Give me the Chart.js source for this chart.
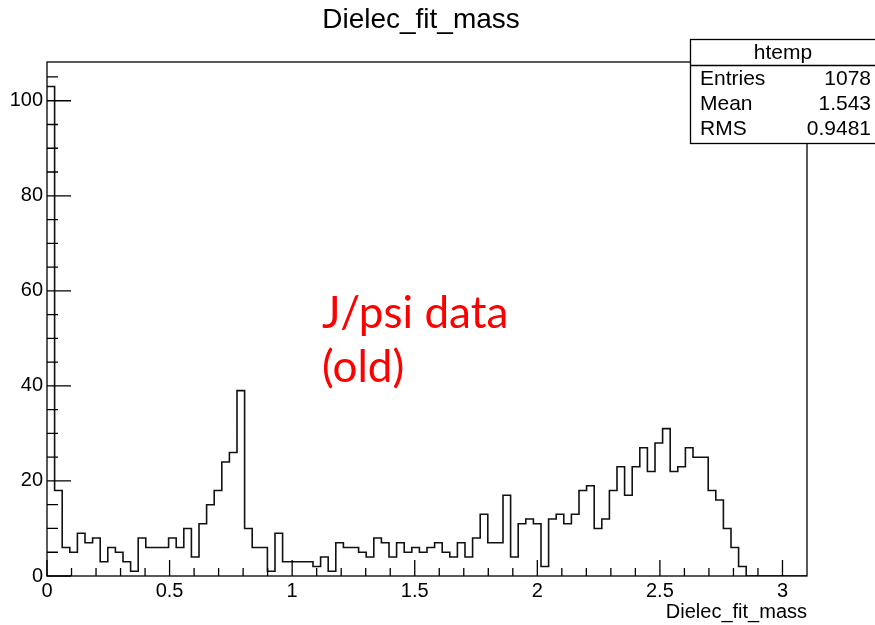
<!DOCTYPE html>
<html>
<head>
<meta charset="utf-8">
<title>Dielec_fit_mass</title>
<script src="https://cdn.jsdelivr.net/npm/chart.js@4.4.1/dist/chart.umd.min.js"></script>
<style>
  html, body { margin: 0; padding: 0; background: #fff; }
  #wrap { width: 875px; height: 625px; }
</style>
</head>
<body>
<div id="wrap"><canvas id="histChart" width="875" height="625"></canvas></div>
<script>
// htemp: 100 bins between binLow and binHigh
var binLow = 0;
var binHigh = 3.1;
var binCounts = [
  103, 18, 6, 5, 9, 7, 8, 3, 6, 5,
  3, 1, 8, 6, 6, 6, 8, 6, 10, 4,
  11, 15, 18, 24, 26, 39, 10, 6, 6, 1,
  9, 3, 3, 3, 3, 2, 4, 1, 7, 6,
  6, 5, 4, 8, 7, 4, 7, 5, 6, 5,
  6, 7, 5, 4, 7, 4, 8, 13, 7, 7,
  17, 4, 11, 12, 11, 2, 12, 13, 11, 13,
  18, 19, 10, 12, 18, 23, 17, 23, 27, 22,
  28, 31, 22, 23, 27, 25, 25, 18, 16, 10,
  6, 2, 0, 0, 0, 0, 0, 0, 0, 0
];
var yAxisMax = 108.15;   // ROOT: max bin * 1.05

var histTitle = 'Dielec_fit_mass';
var xAxisTitle = 'Dielec_fit_mass';

// stats box
var statsTitle = 'htemp';
var statLabels = ['Entries', 'Mean', 'RMS'];
var statValues = ['1078', '1.543', '0.9481'];

// red note pasted on the plot
var noteLines = ['J/psi data', '(old)'];

Chart.defaults.font.family = "'Liberation Sans', Arial, Helvetica, sans-serif";
Chart.defaults.color = '#000';

var binWidth = (binHigh - binLow) / binCounts.length;
var histPoints = binCounts.map(function(c, i) {
  return { x: binLow + i * binWidth, y: c };
});
histPoints.push({ x: binHigh, y: binCounts[binCounts.length - 1] });

function plainNumber(value) {
  return String(Number(value.toFixed(3)));
}

// ROOT style title, frame, inward ticks, stats box and note
var rootDecor = {
  id: 'rootDecor',
  afterDraw: function(chart) {
    var ctx = chart.ctx;
    var a = chart.chartArea;
    var xs = chart.scales.x, ys = chart.scales.y;
    ctx.save();

    ctx.fillStyle = '#000';
    ctx.font = "28px 'Liberation Sans', Arial, sans-serif";
    ctx.textAlign = 'center';
    ctx.textBaseline = 'middle';
    ctx.fillText(histTitle, 421, 20);

    ctx.strokeStyle = '#000';
    ctx.lineWidth = 1.3;
    ctx.strokeRect(a.left, a.top, a.right - a.left, a.bottom - a.top);

    ctx.beginPath();
    for (var v = 0; v <= 105; v += 5) {
      var py = ys.getPixelForValue(v);
      var len = (v % 20 === 0) ? 24 : 11;
      ctx.moveTo(a.left, py);
      ctx.lineTo(a.left + len, py);
    }
    for (var k = 0; k <= 30; k++) {
      var px = xs.getPixelForValue(k / 10);
      var len2 = (k % 5 === 0) ? 16 : 8;
      ctx.moveTo(px, a.bottom);
      ctx.lineTo(px, a.bottom - len2);
    }
    ctx.stroke();

    // stats box
    ctx.fillStyle = '#fff';
    ctx.fillRect(690.5, 39.5, 200, 104);
    ctx.strokeRect(690.5, 39.5, 200, 104);
    ctx.beginPath();
    ctx.moveTo(690.5, 65.5);
    ctx.lineTo(875, 65.5);
    ctx.stroke();
    ctx.fillStyle = '#000';
    ctx.font = "21px 'Liberation Sans', Arial, sans-serif";
    ctx.textBaseline = 'middle';
    ctx.textAlign = 'center';
    ctx.fillText(statsTitle, 783, 53);
    for (var r = 0; r < statLabels.length; r++) {
      var ty = 79 + r * 25;
      ctx.textAlign = 'left';
      ctx.fillText(statLabels[r], 700, ty);
      ctx.textAlign = 'right';
      ctx.fillText(statValues[r], 871, ty);
    }

    // note
    ctx.fillStyle = '#ff0000';
    ctx.font = "44px Lato, 'Open Sans', sans-serif";
    ctx.textAlign = 'left';
    ctx.textBaseline = 'alphabetic';
    for (var n = 0; n < noteLines.length; n++) {
      ctx.fillText(noteLines[n], 322, 328 + n * 54);
    }
    ctx.restore();
  }
};

var ctx = document.getElementById('histChart').getContext('2d');
new Chart(ctx, {
  type: 'line',
  data: {
    datasets: [{
      label: 'htemp',
      data: histPoints,
      stepped: true,
      borderColor: '#111',
      borderWidth: 1.6,
      pointRadius: 0,
      fill: false
    }]
  },
  options: {
    responsive: false,
    animation: false,
    devicePixelRatio: 1,
    layout: { padding: { left: 0, right: 68, top: 62, bottom: 0 } },
    plugins: {
      legend: { display: false },
      tooltip: { enabled: false },
      title: { display: false }
    },
    scales: {
      x: {
        type: 'linear',
        min: binLow,
        max: binHigh,
        grid: { display: false, drawTicks: false },
        border: { display: false },
        ticks: {
          stepSize: 0.5,
          includeBounds: false,
          autoSkip: false,
          maxRotation: 0,
          padding: 3,
          color: '#000',
          font: { size: 20 },
          callback: plainNumber
        },
        title: {
          display: true,
          text: xAxisTitle,
          align: 'end',
          color: '#000',
          font: { size: 20 },
          padding: { top: 0, bottom: 1 }
        },
        afterFit: function(scale) { scale.height = 49; }
      },
      y: {
        min: 0,
        max: yAxisMax,
        grid: { display: false, drawTicks: false },
        border: { display: false },
        ticks: {
          stepSize: 20,
          includeBounds: false,
          padding: 4,
          color: '#000',
          font: { size: 20 },
          callback: plainNumber
        },
        afterFit: function(scale) { scale.width = 47; }
      }
    }
  },
  plugins: [rootDecor]
});
</script>
</body>
</html>
